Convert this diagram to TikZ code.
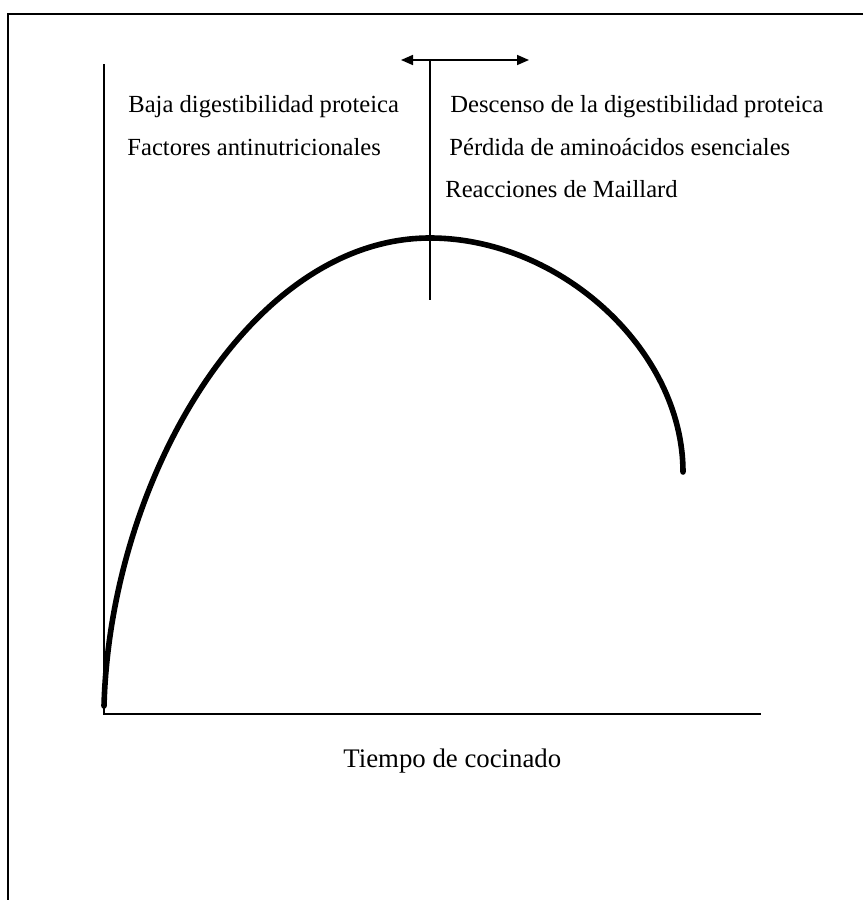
\documentclass[tikz,border=0pt]{standalone}
\usepackage{fontspec}
\setmainfont{Liberation Serif}
\usepackage{tikz}
\usetikzlibrary{arrows.meta,positioning,calc}
\definecolor{cInk}{HTML}{000000}
\tikzset{
  frm/.style={line width=1pt,color=cInk},
  axis/.style={line width=0.8pt,color=cInk},
  curve/.style={line width=2.8pt,color=cInk,line cap=round},
  darr/.style={{Triangle[length=6pt,width=5pt]}-{Triangle[length=6pt,width=5pt]},line width=0.8pt,color=cInk},
  lbl/.style={font=\fontsize{12.3}{14}\selectfont,anchor=base west,inner sep=0pt,text=cInk},
  tlbl/.style={font=\fontsize{13.4}{15}\selectfont,anchor=base west,inner sep=0pt,text=cInk},
}

\begin{document}
\begin{tikzpicture}[x=0.5pt,y=-0.5pt]
  \useasboundingbox (0,0) rectangle (863,900);
  % frame, cut off at right and bottom
  \coordinate (fTR) at (863,14);
  \coordinate (fTL) at (8,14);
  \coordinate (fBL) at (8,900);
  \draw[frm] (fTR) -- (fTL) -- (fBL);
  % axes
  \coordinate (yTop) at (104,64);
  \coordinate (orig) at (104,714);
  \coordinate (xEnd) at (761,714);
  \draw[axis] (yTop) -- (orig) -- (xEnd);
  % optimum marker
  \coordinate (dTop) at (430,60);
  \coordinate (dBot) at (430,300);
  \coordinate (aL) at (401,60);
  \coordinate (aR) at (529,60);
  \draw[axis] (dTop) -- (dBot);
  \draw[darr] (aL) -- (aR);
  % cooking curve
  \coordinate (cStart) at (104,706);
  \coordinate (cPeak) at (430,238);
  \coordinate (cEnd) at (683,472);
  \draw[curve] (cStart) .. controls (110,480) and (250,238) .. (cPeak)
    .. controls (560,238) and (683,350) .. (cEnd);
  % effects
  \node[lbl] (baja) at (128,112) {Baja digestibilidad proteica};
  \node[lbl] (fact) at (127,155) {Factores antinutricionales};
  \node[lbl] (desc) at (450,112) {Descenso de la digestibilidad proteica};
  \node[lbl] (perd) at (449,155) {Pérdida de aminoácidos esenciales};
  \node[lbl] (reac) at (445,197) {Reacciones de Maillard};
  \node[tlbl] (tiempo) at (343,767) {Tiempo de cocinado};
\end{tikzpicture}
\end{document}
